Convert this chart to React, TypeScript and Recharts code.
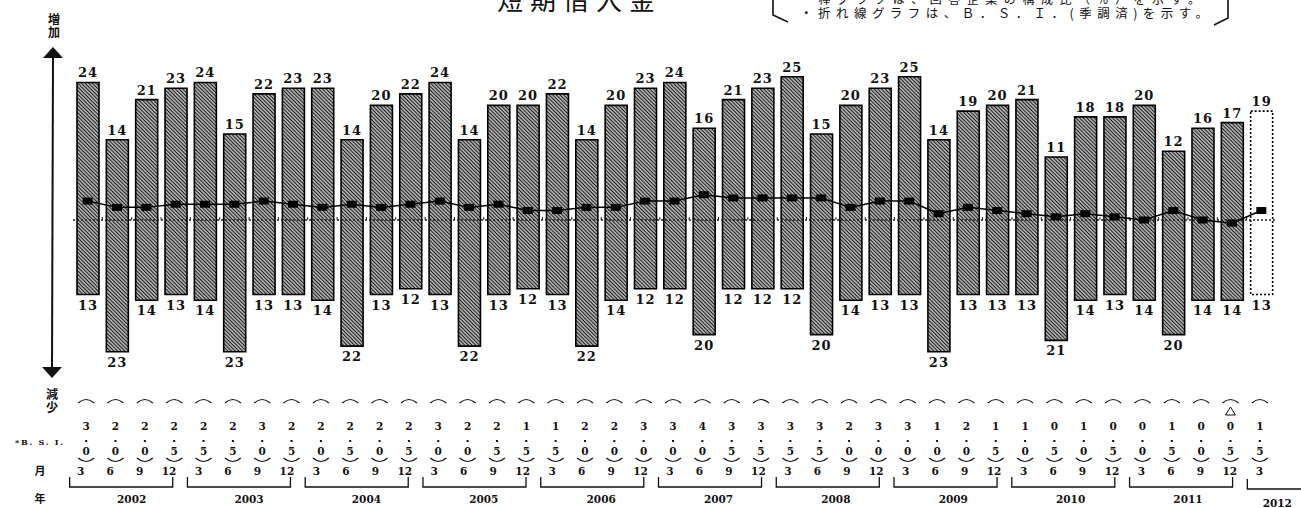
import React from 'react';
import { ComposedChart, Bar, Line, XAxis, YAxis, LabelList, ReferenceLine, Cell } from 'recharts';

// 2002/3 .. 2012/3, quarterly
const years = ['2002', '2003', '2004', '2005', '2006', '2007', '2008', '2009', '2010', '2011', '2012'];
const months = ['3', '6', '9', '12'];
const quarters = years.flatMap((y) => months.map((m) => `${y}/${m}`)).slice(0, 41);

// 増加 (%)
const increase = [
  24, 14, 21, 23, 24, 15, 22, 23, 23, 14, 20, 22, 24, 14, 20, 20, 22, 14, 20, 23,
  24, 16, 21, 23, 25, 15, 20, 23, 25, 14, 19, 20, 21, 11, 18, 18, 20, 12, 16, 17, 19,
];
// 減少 (%)
const decrease = [
  13, 23, 14, 13, 14, 23, 13, 13, 14, 22, 13, 12, 13, 22, 13, 12, 13, 22, 14, 12,
  12, 20, 12, 12, 12, 20, 14, 13, 13, 23, 13, 13, 13, 21, 14, 13, 14, 20, 14, 14, 13,
];
// B.S.I. (季調済)
const bsi = [
  3.0, 2.0, 2.0, 2.5, 2.5, 2.5, 3.0, 2.5, 2.0, 2.5, 2.0, 2.5, 3.0, 2.0, 2.5, 1.5,
  1.5, 2.0, 2.0, 3.0, 3.0, 4.0, 3.5, 3.5, 3.5, 3.5, 2.0, 3.0, 3.0, 1.0, 2.0, 1.5,
  1.0, 0.5, 1.0, 0.5, 0.0, 1.5, 0.0, -0.5, 1.5,
];

const rows = quarters.map((q, i) => ({
  q,
  range: [-decrease[i], increase[i]],
  bsi: bsi[i],
}));

const W = 1301;
const H = 508;
const LEFT = 73;
const RIGHT = 25;
const STEP = (W - LEFT - RIGHT) / quarters.length;

const numFont = { fontFamily: 'DejaVu Serif', fontWeight: 700, fontSize: 13, fill: '#111' } as const;
const tblFont = { fontFamily: 'DejaVu Serif', fontWeight: 700, fontSize: 10.5, fill: '#111' } as const;

function RangeLabels(props: any) {
  const { x, y, width, height, index } = props;
  if (x == null || index == null) return null;
  const top = Math.min(y, y + height);
  const bottom = Math.max(y, y + height);
  const cx = x + width / 2;
  return (
    <g>
      <text x={cx} y={top - 5} textAnchor="middle" letterSpacing={1} {...numFont}>
        {increase[index]}
      </text>
      <text x={cx} y={bottom + 15} textAnchor="middle" letterSpacing={1} {...numFont}>
        {decrease[index]}
      </text>
    </g>
  );
}

function SquareDot(p: any) {
  if (p.cx == null) return null;
  return <rect key={p.index} x={p.cx - 5} y={p.cy - 3.5} width={10} height={7} fill="#000" />;
}

function ZeroLine(p: any) {
  const { x1, y1, x2, y2 } = p;
  if (x1 == null) return null;
  const n = quarters.length;
  const ticks = [];
  for (let k = 1; k < n; k++) {
    const tx = x1 + ((x2 - x1) * k) / n;
    ticks.push(<line key={k} x1={tx} x2={tx} y1={y1} y2={y1 - 3} stroke="#222" strokeWidth={1} />);
  }
  return (
    <g>
      <line x1={x1} y1={y1} x2={x2} y2={y2} stroke="#222" strokeWidth={1.5} strokeDasharray="2 2" />
      {ticks}
    </g>
  );
}

function TableTick(props: any) {
  const { x, index } = props;
  if (x == null || index == null) return null;
  const i = index;
  const drift = i / 40;
  const cx = x - 1.5;
  const mx = x - 7 + 5 * drift;
  const v = bsi[i];
  const a = Math.abs(v);
  const d1 = String(Math.floor(a));
  const d2 = String(Math.round((a - Math.floor(a)) * 10));
  const qi = i % 4;
  const yearIdx = Math.floor(i / 4);
  const parts = [];
  if (qi === 0) {
    const bl = x - 18 + 4 * drift;
    const isLast = yearIdx === years.length - 1;
    const br = isLast ? W : x + 3 * STEP - 3 + 4 * drift;
    parts.push(
      <path
        key="br"
        d={isLast ? `M${bl},479 L${bl},489 L${br},489` : `M${bl},477 L${bl},487 L${br},487 L${br},477`}
        fill="none"
        stroke="#111"
        strokeWidth={1.3}
      />
    );
    parts.push(
      <text key="yr" x={isLast ? x + 16 : x + 1.5 * STEP} y={isLast ? 507 : 503} textAnchor="middle" {...tblFont}>
        {years[yearIdx]}
      </text>
    );
  }
  return (
    <g>
      <path d={`M${cx - 8},403 Q${cx},396 ${cx + 8},403`} fill="none" stroke="#111" strokeWidth={1.2} />
      {v < 0 && <path d={`M${cx},407 L${cx - 5},415 L${cx + 5},415 Z`} fill="none" stroke="#111" strokeWidth={1} />}
      <text x={cx} y={430} textAnchor="middle" {...tblFont}>{d1}</text>
      <rect x={cx - 1} y={440} width={2} height={2} fill="#111" />
      <text x={cx} y={455} textAnchor="middle" {...tblFont}>{d2}</text>
      <path d={`M${cx - 8},458 Q${cx},465 ${cx + 8},458`} fill="none" stroke="#111" strokeWidth={1.2} />
      <text x={mx} y={475} textAnchor="middle" {...tblFont}>{months[qi]}</text>
      {parts}
    </g>
  );
}

const jp = 'Noto Sans CJK JP';

function Decorations() {
  return (
    <svg width={W} height={H} style={{ position: 'absolute', left: 0, top: 0, pointerEvents: 'none' }}>
      <text x={497} y={10} fontFamily={jp} fontSize={26} letterSpacing={7} fill="#111">短期借入金</text>
      <path d="M773,0 L773,15 L788,22" fill="none" stroke="#111" strokeWidth={1.6} />
      <path d="M1228,0 L1228,18 L1214,25" fill="none" stroke="#111" strokeWidth={1.6} />
      <text x={800} y={4} fontFamily={jp} fontSize={12} fill="#111" textLength={400} lengthAdjust="spacing">
        ・棒グラフは、回答企業の構成比（％）を示す。
      </text>
      <text x={800} y={18} fontFamily={jp} fontSize={12.5} fill="#111" textLength={408} lengthAdjust="spacing">
        ・折れ線グラフは、Ｂ．Ｓ．Ｉ．(季調済)を示す。
      </text>
      <text x={54} y={24} textAnchor="middle" fontFamily={jp} fontWeight={700} fontSize={12} fill="#111">増</text>
      <text x={54} y={37} textAnchor="middle" fontFamily={jp} fontWeight={700} fontSize={12} fill="#111">加</text>
      <path d="M53,47 L43,58 L63,58 Z" fill="#111" />
      <line x1={53} y1={56} x2={52} y2={368} stroke="#111" strokeWidth={2} />
      <path d="M42,367 L62,367 L52,378 Z" fill="#111" />
      <text x={52} y={399} textAnchor="middle" fontFamily={jp} fontWeight={700} fontSize={12} fill="#111">減</text>
      <text x={52} y={412} textAnchor="middle" fontFamily={jp} fontWeight={700} fontSize={12} fill="#111">少</text>
      <text x={15} y={445} fontFamily="DejaVu Serif" fontWeight={700} fontSize={8} fill="#111" textLength={48} lengthAdjust="spacing">*B. S. I.</text>
      <text x={40} y={475} textAnchor="middle" fontFamily={jp} fontWeight={700} fontSize={11} fill="#111">月</text>
      <text x={40} y={503} textAnchor="middle" fontFamily={jp} fontWeight={700} fontSize={11} fill="#111">年</text>
    </svg>
  );
}

export default function App() {
  return (
    <div style={{ position: 'absolute', left: 0, top: 0, width: W, height: H, background: '#fff' }}>
      <ComposedChart width={W} height={H} data={rows} margin={{ top: 71, right: RIGHT, bottom: 0, left: LEFT }}>
        <defs>
          <pattern id="hatch" patternUnits="userSpaceOnUse" width={2.6} height={2.6} patternTransform="rotate(-45)">
            <rect width={2.6} height={2.6} fill="#e8e8e8" />
            <line x1={1.3} y1={0} x2={1.3} y2={2.6} stroke="#1a1a1a" strokeWidth={1.4} />
          </pattern>
        </defs>
        <XAxis
          dataKey="q"
          interval={0}
          height={139}
          axisLine={false}
          tickLine={false}
          tick={<TableTick />}
          padding={{ left: 0, right: 0 }}
        />
        <YAxis yAxisId="bar" hide domain={[-26, 26]} allowDataOverflow />
        <YAxis yAxisId="bsi" hide domain={[-23.6, 23.6]} allowDataOverflow />
        <ReferenceLine yAxisId="bar" y={0} shape={<ZeroLine />} />
        <Bar yAxisId="bar" dataKey="range" barSize={22} fill="url(#hatch)" stroke="#000" strokeWidth={1.6} isAnimationActive={false}>
          {rows.map((r, i) => (
            <Cell
              key={r.q}
              fill={i === rows.length - 1 ? '#fff' : 'url(#hatch)'}
              strokeDasharray={i === rows.length - 1 ? '2 2' : undefined}
            />
          ))}
          <LabelList dataKey="range" content={<RangeLabels />} />
        </Bar>
        <Line
          yAxisId="bsi"
          dataKey="bsi"
          type="linear"
          stroke="#000"
          strokeWidth={1.5}
          dot={<SquareDot />}
          activeDot={false}
          isAnimationActive={false}
        />
      </ComposedChart>
      <Decorations />
    </div>
  );
}
